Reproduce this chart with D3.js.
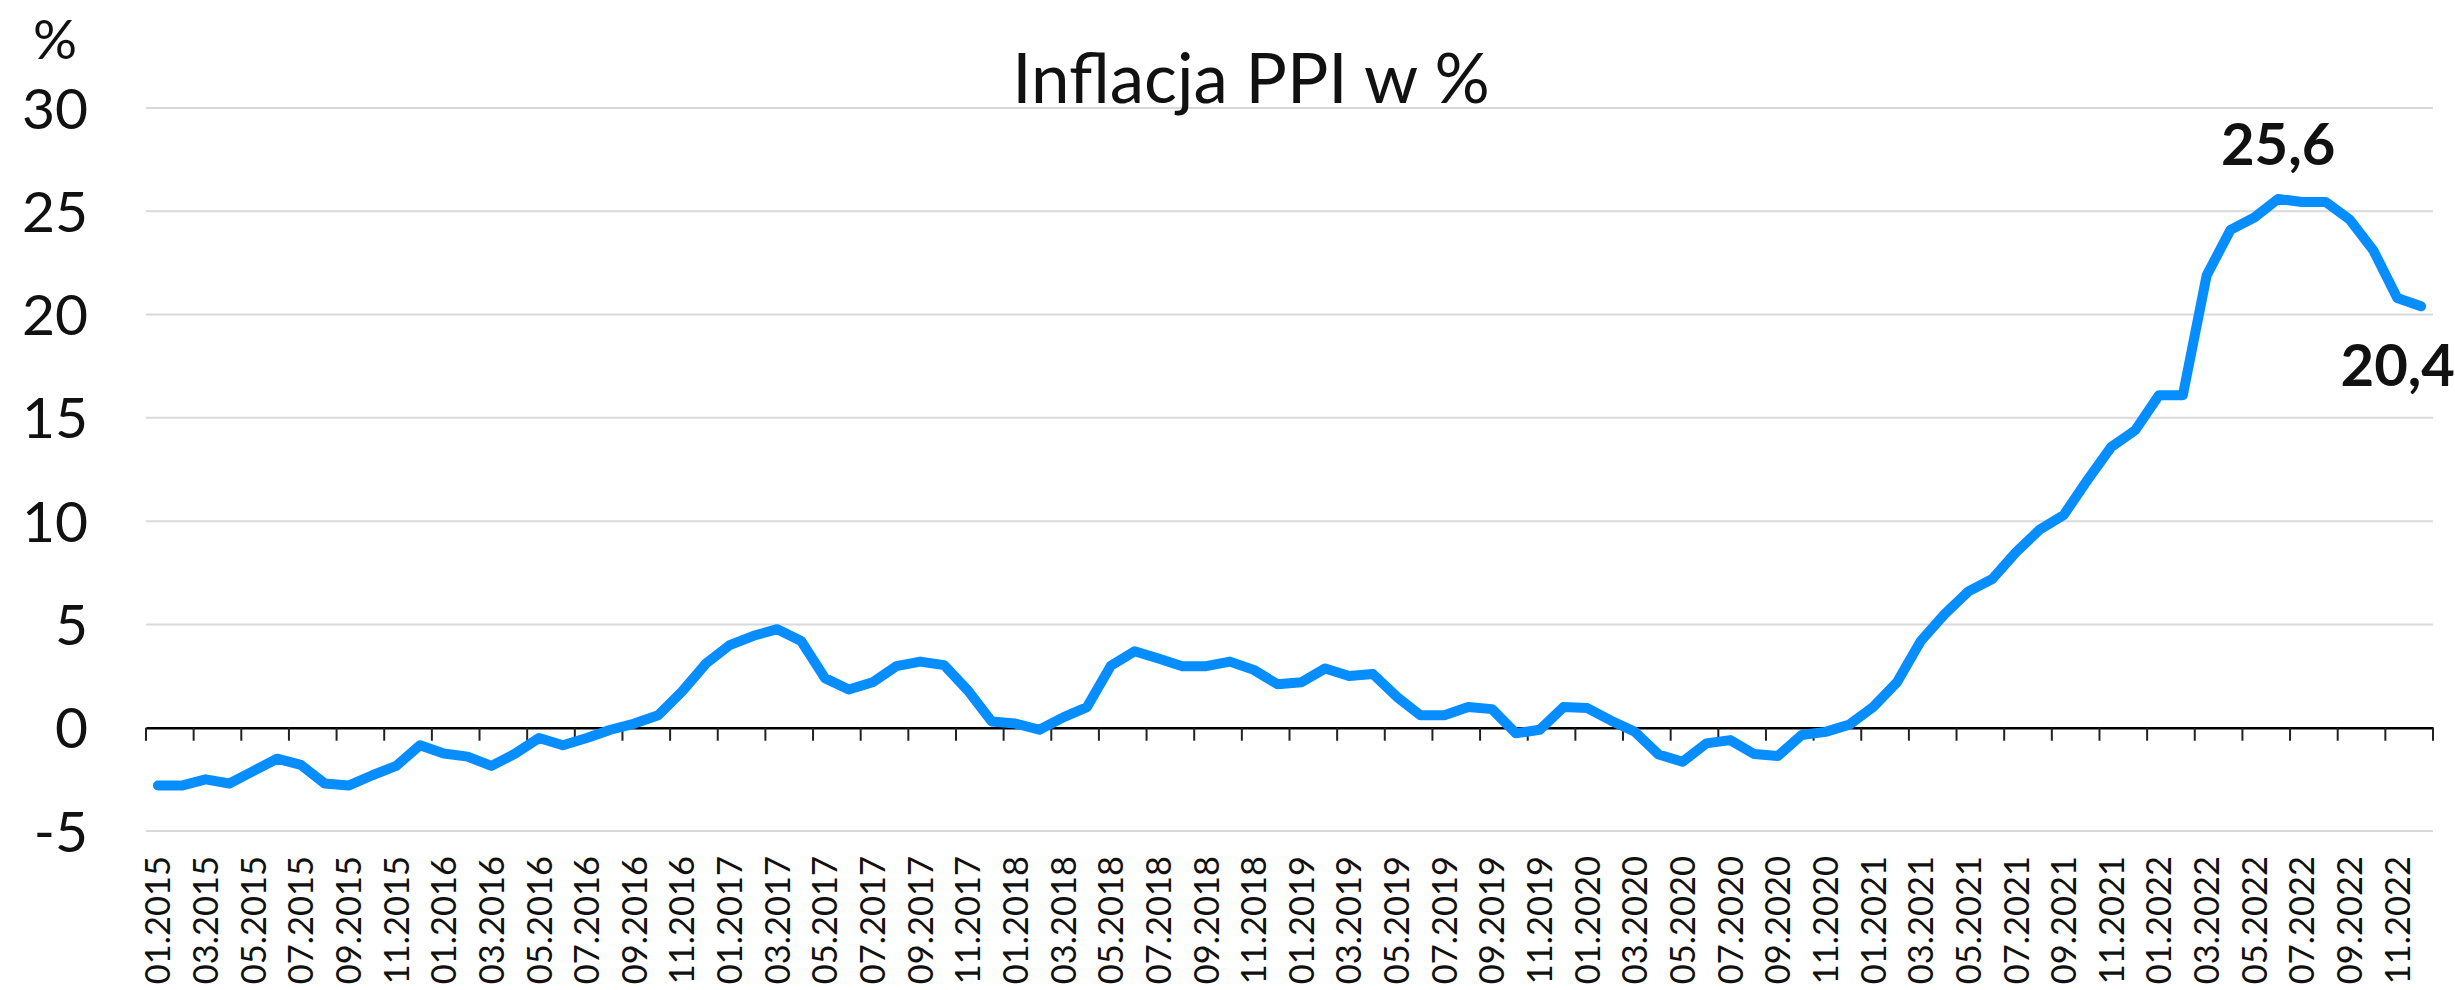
<!DOCTYPE html>
<html>
<head>
<meta charset="utf-8">
<script src="https://cdn.jsdelivr.net/npm/d3@7"></script>
<style>
    body { margin: 0; background: #fff; }
    #chart { width: 2455px; height: 990px; }
    text { font-family: Lato, "Open Sans", sans-serif; fill: #111; }
</style>
</head>
<body>
<div id="chart"></div>
<script>

// years and month numbers used to build the category labels
let years = [2015, 2016, 2017, 2018, 2019, 2020, 2021, 2022];
let monthNums = ["01", "02", "03", "04", "05", "06", "07", "08", "09", "10", "11", "12"];

// PPI y/y in %, one value per month
let ppi2015 = [-2.8, -2.8, -2.5, -2.7, -2.1, -1.5, -1.8, -2.7, -2.8, -2.3, -1.85, -0.85];
let ppi2016 = [-1.25, -1.4, -1.85, -1.25, -0.5, -0.85, -0.5, -0.1, 0.2, 0.6, 1.75, 3.1];
let ppi2017 = [4.0, 4.45, 4.77, 4.2, 2.4, 1.85, 2.2, 2.98, 3.2, 3.03, 1.8, 0.3];
let ppi2018 = [0.2, -0.1, 0.5, 1.0, 3.0, 3.7, 3.35, 2.98, 2.98, 3.2, 2.8, 2.1];
let ppi2019 = [2.2, 2.87, 2.5, 2.6, 1.5, 0.6, 0.6, 1.0, 0.9, -0.27, -0.1, 1.0];
let ppi2020 = [0.95, 0.34, -0.2, -1.3, -1.65, -0.76, -0.6, -1.27, -1.37, -0.35, -0.2, 0.15];
let ppi2021 = [1.0, 2.2, 4.2, 5.5, 6.6, 7.2, 8.5, 9.6, 10.3, 12.0, 13.6, 14.4];
let ppi2022 = [16.1, 16.1, 21.9, 24.1, 24.7, 25.6, 25.45, 25.45, 24.6, 23.1, 20.8, 20.4];

let yTicks = [-5, 0, 5, 10, 15, 20, 25, 30];

// labelled points: peak and last value
let labelMonths = ["06.2022", "12.2022"];
let labelTexts = ["25,6", "20,4"];

/** Draws the PPI line chart */
class PpiChart {

    constructor() {
        this.margin = {top: 108, right: 22, bottom: 159, left: 146};
        this.width = 2455;
        this.height = 990;

        this.svg = d3.select("#chart").append("svg")
            .attr("width", this.width)
            .attr("height", this.height);
    }

    draw(months, values) {
        let data = months.map((m, i) => ({month: m, value: values[i]}));

        let xScale = d3.scaleBand()
            .domain(months)
            .range([this.margin.left, this.width - this.margin.right])
            .padding(0);
        let yScale = d3.scaleLinear()
            .domain([-5, 30])
            .range([831, this.margin.top]);

        let left = this.margin.left;
        let right = this.width - this.margin.right;

        // horizontal gridlines
        this.svg.append("g")
            .selectAll("line")
            .data(yTicks.filter(d => d !== 0))
            .enter().append("line")
            .attr("x1", left)
            .attr("x2", right)
            .attr("y1", d => yScale(d))
            .attr("y2", d => yScale(d))
            .attr("stroke", "#d9d9d9")
            .attr("stroke-width", 2);

        // y axis labels
        this.svg.append("g")
            .selectAll("text")
            .data(yTicks)
            .enter().append("text")
            .attr("x", 88)
            .attr("y", d => yScale(d))
            .attr("dy", "0.36em")
            .attr("text-anchor", "end")
            .style("font-size", "57px")
            .text(d => d);

        this.svg.append("text")
            .attr("x", 55)
            .attr("y", 59)
            .attr("text-anchor", "middle")
            .style("font-size", "55px")
            .text("%");

        // category axis at zero, tick every two months
        let xAxis = d3.axisBottom(xScale)
            .tickValues(months.filter((m, i) => i % 2 === 0))
            .tickSize(13)
            .tickSizeOuter(0)
            .tickFormat("");
        let axisG = this.svg.append("g")
            .attr("transform", "translate(0," + yScale(0) + ")")
            .call(xAxis);
        axisG.selectAll(".tick line")
            .attr("x1", -xScale.bandwidth() / 2)
            .attr("x2", -xScale.bandwidth() / 2)
            .attr("stroke", "#222")
            .attr("stroke-width", 2);
        axisG.append("line")
            .attr("x1", right).attr("x2", right)
            .attr("y1", 0).attr("y2", 13)
            .attr("stroke", "#222")
            .attr("stroke-width", 2);
        axisG.select(".domain")
            .attr("stroke", "#000")
            .attr("stroke-width", 2.5);

        // rotated month labels below the plot
        this.svg.append("g")
            .selectAll("text")
            .data(months.filter((m, i) => i % 2 === 0))
            .enter().append("text")
            .attr("transform", d => "translate(" + (xScale(d) + xScale.bandwidth() / 2) + ",856) rotate(-90)")
            .attr("dy", "0.36em")
            .attr("text-anchor", "end")
            .style("font-size", "34.5px")
            .text(d => d);

        // the line
        let line = d3.line()
            .x(d => xScale(d.month) + xScale.bandwidth() / 2)
            .y(d => yScale(d.value));
        this.svg.append("path")
            .datum(data)
            .attr("d", line)
            .attr("fill", "none")
            .attr("stroke", "#068dff")
            .attr("stroke-width", 10)
            .attr("stroke-linejoin", "round")
            .attr("stroke-linecap", "round");

        // value labels
        let peak = data.find(d => d.month === labelMonths[0]);
        this.svg.append("text")
            .attr("x", xScale(peak.month) + xScale.bandwidth() / 2)
            .attr("y", yScale(peak.value) - 34)
            .attr("text-anchor", "middle")
            .style("font-size", "58px")
            .style("font-weight", "bold")
            .text(labelTexts[0]);

        let last = data.find(d => d.month === labelMonths[1]);
        this.svg.append("text")
            .attr("x", this.width)
            .attr("y", yScale(last.value) + 80)
            .attr("text-anchor", "end")
            .style("font-size", "58px")
            .style("font-weight", "bold")
            .text(labelTexts[1]);

        // title
        this.svg.append("text")
            .attr("x", 1251)
            .attr("y", 103)
            .attr("text-anchor", "middle")
            .style("font-size", "69px")
            .text("Inflacja PPI w %");
    }
}

let months = [];
years.forEach(function(y) {
    monthNums.forEach(function(m) {
        months.push(m + "." + y);
    });
});
let values = [].concat(ppi2015, ppi2016, ppi2017, ppi2018, ppi2019, ppi2020, ppi2021, ppi2022);

let chart = new PpiChart();
chart.draw(months, values);

</script>
</body>
</html>
